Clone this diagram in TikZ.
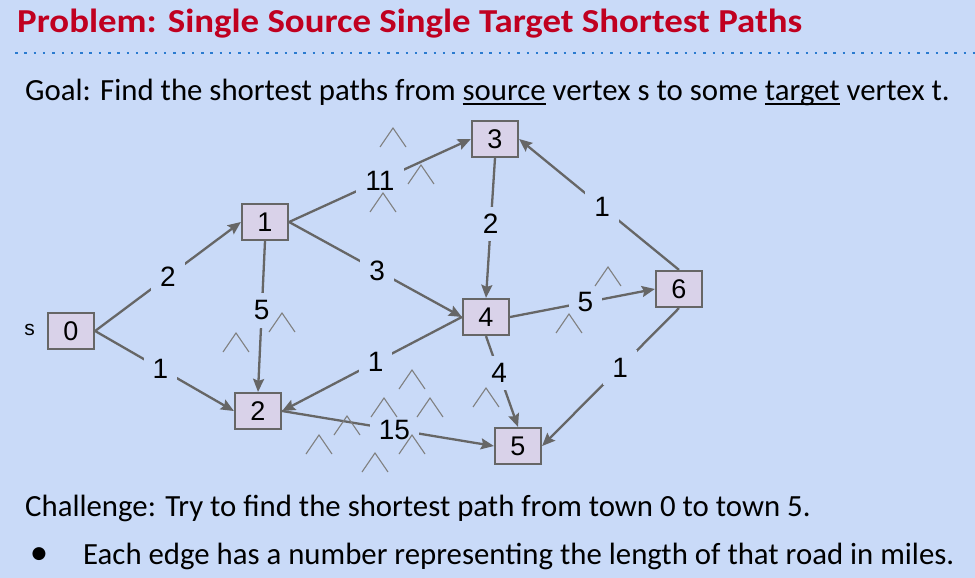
\documentclass[tikz,border=0pt]{standalone}
\usepackage{fontspec}
\setmainfont{Carlito}
\newfontfamily\arialfont{Liberation Sans}
\newfontfamily\symfont{DejaVu Sans}
\usetikzlibrary{arrows.meta}

\definecolor{slidebg}{HTML}{C9DAF8}
\definecolor{boxfill}{HTML}{D9D2E9}
\definecolor{edgegray}{HTML}{666666}
\definecolor{titlered}{HTML}{C00020}
\definecolor{dotblue}{HTML}{2A7BD0}
\definecolor{hatgray}{HTML}{808080}

% underline with a heavier rule than \underline gives at this size
\newcommand\thickul[1]{\setbox0\hbox{#1}\rlap{\rule[-5pt]{\wd0}{2pt}}\box0\relax}

\tikzset{
  town/.style={draw=edgegray, line width=2.2pt, fill=boxfill,
    minimum width=46pt, minimum height=36pt, inner sep=0pt,
    font=\arialfont\fontsize{27}{27}\selectfont},
  road/.style={draw=edgegray, line width=2.3pt,
    -{Stealth[length=13pt,width=11pt,inset=2pt]}},
  wt/.style={fill=slidebg, inner xsep=9pt, inner ysep=7.5pt, text=black,
    font=\arialfont\fontsize{28}{28}\selectfont},
  hat/.style={draw=hatgray, line width=1.1pt},
  hatmark/.pic={\draw[hat] (-13,19) -- (0,0) -- (13,19);},
  bodytext/.style={anchor=base west, inner sep=0pt,
    font=\fontsize{30.8}{36}\selectfont},
}

\begin{document}
\begin{tikzpicture}[x=1pt,y=-1pt]
  \fill[slidebg] (0,0) rectangle (975,578);
  \useasboundingbox (0,0) rectangle (975,578);

  % heading and dotted rule
  \node[anchor=base west, inner sep=0pt, text=titlered,
        font=\bfseries\fontsize{33.5}{38}\selectfont] (title) at (17,33)
        {\scalebox{1.1}[1]{Problem: Single Source Single Target Shortest Paths}};
  \draw[dotblue, line width=2.5pt, dash pattern=on 2.5pt off 6.8pt] (15,53) -- (975,53);

  \node[bodytext] (goal) at (25,100)
    {Goal: Find the shortest paths from \thickul{source} vertex s to some \thickul{target} vertex t.};

  % towns
  \node[town] (n0) at (71,331) {0};
  \node[town] (n1) at (265,222) {1};
  \node[town] (n2) at (258,411) {2};
  \node[town] (n3) at (495,139) {3};
  \node[town] (n4) at (486,317) {4};
  \node[town] (n5) at (518,446) {5};
  \node[town] (n6) at (679,289) {6};
  \node[anchor=east, inner sep=0pt, font=\arialfont\fontsize{21}{21}\selectfont]
    (slabel) at (35,330) {s};

  % roads with their lengths
  \draw[road] (n0.east)  -- node[wt,pos=.50]{2}  (n1.west);
  \draw[road] (n0.east)  -- node[wt,pos=.47]{1}  (n2.west);
  \draw[road] (n1.east)  -- node[wt,pos=.50]{11} (n3.west);
  \draw[road] (n1.east)  -- node[wt,pos=.51]{3}  (n4.west);
  \draw[road] (n1.south) -- node[wt,pos=.46]{5}  (n2.north);
  \draw[road] (n3.south) -- node[wt,pos=.47]{2}  (n4.north);
  \draw[road] (n4.west)  -- node[wt,pos=.48]{1}  (n2.east);
  \draw[road] (n4.east)  -- node[wt,pos=.52]{5}  (n6.west);
  \draw[road] (n4.south) -- node[wt,pos=.41]{4}  (n5.north);
  \draw[road] (n6.north) -- node[wt,pos=.48]{1}  (n3.east);
  \draw[road] (n6.south) -- node[wt,pos=.43]{1}  (n5.east);
  \draw[road] (n2.east)  -- node[wt,pos=.53]{15} (n5.west);

  % small caret marks scattered over the map, on top of the roads
  \foreach \p in {(393,128),(421,165),(383,193),(282,313),(236,333),
                  (608,267),(569,314),(412,370),(384,398),(430,398),
                  (347,416),(319,435),(412,435),(375,453),(486,388)}
    \pic at \p {hatmark};

  % challenge text
  \node[bodytext] (challenge) at (25,516)
    {Challenge: Try to find the shortest path from town 0 to town 5.};
  \node[inner sep=0pt, font=\symfont\fontsize{17}{17}\selectfont] (dot) at (39,554) {●};
  \node[bodytext] (bullet) at (83,564)
    {Each edge has a number representing the length of that road in miles.};
\end{tikzpicture}
\end{document}
